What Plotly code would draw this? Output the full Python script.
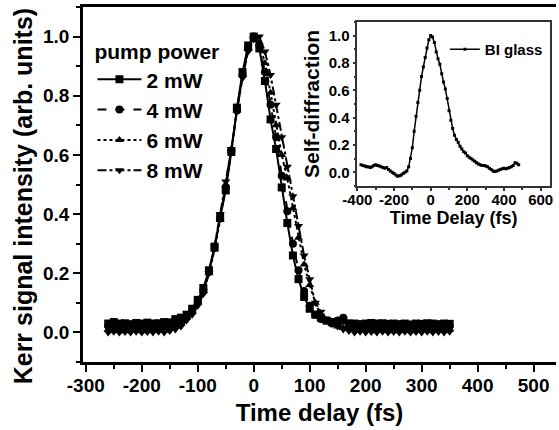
import plotly.graph_objects as go

# ---------------- data ----------------
time_fs = [-260, -250, -240, -230, -220, -210, -200, -190, -180, -170, -160, -150,
           -140, -130, -120, -110, -100, -90, -80, -70, -60, -50, -40, -30, -20, -10,
           0, 10, 20, 30, 40, 50, 60, 70, 80, 90, 100, 110, 120, 130, 140, 150,
           160, 170, 180, 190, 200, 210, 220, 230, 240, 250, 260, 270, 280, 290,
           300, 310, 320, 330, 340, 350]

p2mW = [0.030, 0.035, 0.030, 0.031, 0.028, 0.032, 0.030, 0.033, 0.030, 0.031, 0.035, 0.034,
        0.045, 0.050, 0.060, 0.080, 0.110, 0.150, 0.210, 0.290, 0.390, 0.480, 0.610, 0.760, 0.880, 0.970,
        1.000, 0.960, 0.850, 0.720, 0.620, 0.490, 0.370, 0.260, 0.180, 0.120, 0.080, 0.060, 0.050, 0.040, 0.035, 0.033,
        0.040, 0.030, 0.030, 0.028, 0.030, 0.032, 0.030, 0.031, 0.029, 0.030, 0.028, 0.030, 0.027, 0.030,
        0.029, 0.031, 0.030, 0.028, 0.030, 0.029]

p4mW = [0.022, 0.025, 0.020, 0.024, 0.021, 0.023, 0.020, 0.024, 0.022, 0.021, 0.025, 0.028,
        0.035, 0.045, 0.055, 0.075, 0.105, 0.145, 0.205, 0.285, 0.385, 0.490, 0.610, 0.750, 0.870, 0.960,
        1.000, 0.970, 0.880, 0.770, 0.660, 0.530, 0.410, 0.300, 0.210, 0.140, 0.090, 0.060, 0.045, 0.040, 0.030, 0.040,
        0.050, 0.030, 0.025, 0.022, 0.020, 0.023, 0.021, 0.020, 0.022, 0.020, 0.019, 0.021, 0.020, 0.022,
        0.020, 0.021, 0.019, 0.020, 0.022, 0.021]

p6mW = [0.010, 0.012, 0.010, 0.011, 0.009, 0.010, 0.012, 0.010, 0.011, 0.010, 0.012, 0.015,
        0.020, 0.030, 0.050, 0.070, 0.100, 0.140, 0.200, 0.280, 0.380, 0.500, 0.620, 0.750, 0.870, 0.960,
        1.000, 0.980, 0.910, 0.810, 0.700, 0.600, 0.520, 0.420, 0.320, 0.230, 0.160, 0.100, 0.060, 0.040, 0.030, 0.020,
        0.015, 0.012, 0.010, 0.011, 0.010, 0.009, 0.010, 0.011, 0.010, 0.009, 0.010, 0.011, 0.010, 0.010,
        0.009, 0.010, 0.011, 0.010, 0.009, 0.010]

p8mW = [0.000, 0.002, 0.000, 0.001, 0.000, 0.002, 0.000, 0.001, 0.000, 0.002, 0.000, 0.005,
        0.010, 0.020, 0.040, 0.060, 0.090, 0.130, 0.200, 0.290, 0.400, 0.510, 0.620, 0.750, 0.860, 0.950,
        0.990, 1.000, 0.950, 0.870, 0.770, 0.660, 0.560, 0.460, 0.360, 0.260, 0.180, 0.100, 0.070, 0.045, 0.030, 0.020,
        0.010, 0.005, 0.000, 0.002, 0.000, 0.001, 0.000, 0.002, 0.000, 0.001, 0.000, 0.002, 0.000, 0.001,
        0.000, 0.002, 0.000, 0.001, 0.000, 0.002]

inset_time_fs = [-380, -370, -360, -350, -340, -330, -320, -310, -300, -290, -280, -270, -260, -250,
                 -240, -230, -220, -210, -200, -190, -180, -170, -160, -150, -140, -130, -120, -110,
                 -100, -90, -80, -70, -60, -50, -40, -30, -20, -10, 0, 10, 20, 30, 40, 50, 60, 70,
                 80, 90, 100, 110, 120, 130, 140, 150, 160, 170, 180, 190, 200, 210, 220, 230, 240,
                 250, 260, 270, 280, 290, 300, 310, 320, 330, 340, 350, 360, 370, 380, 390, 400,
                 410, 420, 430, 440, 450, 460, 470, 480]
bi_glass = [0.055, 0.050, 0.045, 0.040, 0.040, 0.035, 0.040, 0.050, 0.055, 0.050, 0.045, 0.040, 0.035, 0.030,
            0.035, 0.020, 0.010, 0.000, -0.010, -0.020, -0.030, -0.025, -0.020, -0.010, 0.000, 0.010, 0.040, 0.100,
            0.180, 0.300, 0.410, 0.510, 0.600, 0.700, 0.770, 0.840, 0.910, 0.970, 1.000, 0.990, 0.950, 0.880, 0.830, 0.790, 0.720, 0.660,
            0.610, 0.540, 0.450, 0.380, 0.320, 0.270, 0.240, 0.220, 0.190, 0.170, 0.150, 0.140, 0.120, 0.110, 0.100, 0.090, 0.080,
            0.070, 0.060, 0.055, 0.050, 0.050, 0.045, 0.040, 0.030, 0.020, 0.010, 0.005, 0.010, 0.015, 0.020, 0.025, 0.030,
            0.025, 0.030, 0.035, 0.040, 0.050, 0.070, 0.065, 0.055]

series_names = ["2 mW", "4 mW", "6 mW", "8 mW"]
main_xticks = [-300, -200, -100, 0, 100, 200, 300, 400, 500]
main_yticks = [0.0, 0.2, 0.4, 0.6, 0.8, 1.0]
inset_xticks = [-400, -200, 0, 200, 400, 600]
inset_yticks = [0.0, 0.2, 0.4, 0.6, 0.8, 1.0]
y_title = "Kerr signal intensity (arb. units)"

# ---------------- style ----------------
FONT = "Arial, Liberation Sans, sans-serif"
dashes = ["solid", "dash", "dot", "dashdot"]
symbols = ["square", "circle", "triangle-up", "triangle-down"]

fig = go.Figure()
for name, vals, dsh, sym in zip(series_names, [p2mW, p4mW, p6mW, p8mW], dashes, symbols):
    fig.add_trace(go.Scatter(
        x=time_fs, y=vals, name=name, mode="lines+markers",
        line=dict(color="black", width=2, dash=dsh),
        marker=dict(symbol=sym, size=8, color="black"),
        xaxis="x", yaxis="y", legend="legend"))

fig.add_trace(go.Scatter(
    x=inset_time_fs, y=bi_glass, name="BI glass", mode="lines+markers",
    line=dict(color="black", width=1.5), marker=dict(symbol="square", size=3, color="black"),
    xaxis="x2", yaxis="y2", legend="legend2"))

XR = [-305, 540]
YR = [-0.1, 1.1]
IXR = [-400, 650]
IYR = [-0.1, 1.1]

tickfont_main = dict(family=FONT, size=19, color="black", weight="bold")
tickfont_inset = dict(family=FONT, size=15, color="black", weight="bold")

fig.update_layout(
    width=559, height=430,
    margin=dict(l=83, r=0, t=7, b=68),
    paper_bgcolor="white", plot_bgcolor="white",
    showlegend=True,
    xaxis=dict(range=XR, autorange=False, domain=[0, 1], anchor="y",
               tickvals=main_xticks, ticktext=[str(v) for v in main_xticks],
               ticks="outside", ticklen=7, tickwidth=2, tickcolor="black", ticklabelstandoff=-3,
               minor=dict(dtick=50, tick0=0, ticks="outside", ticklen=4, tickwidth=2, tickcolor="black"),
               showline=True, linewidth=2.5, linecolor="black", mirror=True,
               showgrid=False, zeroline=False, tickfont=tickfont_main,
               title=dict(text="Time delay (fs)", font=dict(family=FONT, size=24, color="black", weight="bold"),
                          standoff=10)),
    yaxis=dict(range=YR, autorange=False, domain=[0, 1], anchor="x",
               tickvals=main_yticks, tickformat=".1f", ticks="outside", ticklen=7, tickwidth=2, tickcolor="black",
               minor=dict(dtick=0.1, tick0=0, ticks="outside", ticklen=4, tickwidth=2, tickcolor="black"),
               showline=True, linewidth=2.5, linecolor="black", mirror=False,
               showgrid=False, zeroline=False, tickfont=tickfont_main),
    xaxis3=dict(range=XR, autorange=False, overlaying="x", side="top", anchor="y",
                tickvals=main_xticks, ticks="inside", ticklen=6, tickwidth=2, tickcolor="black",
                minor=dict(dtick=50, tick0=0, ticks="inside", ticklen=4, tickwidth=2, tickcolor="black"),
                showticklabels=False, showline=False, showgrid=False, zeroline=False),
    yaxis3=dict(range=YR, autorange=False, overlaying="y", side="right", anchor="x",
                tickvals=main_yticks, ticks="inside", ticklen=6, tickwidth=2, tickcolor="black",
                minor=dict(dtick=0.1, tick0=0, ticks="inside", ticklen=4, tickwidth=2, tickcolor="black"),
                showticklabels=False, showline=False, showgrid=False, zeroline=False),
    xaxis2=dict(range=IXR, autorange=False, domain=[0.580, 0.987], anchor="y2",
                tickvals=inset_xticks, ticktext=[str(v) for v in inset_xticks],
                ticks="outside", ticklen=3, tickwidth=1.5, tickcolor="#333", ticklabelstandoff=-4,
                minor=dict(dtick=100, tick0=0, ticks="outside", ticklen=2, tickwidth=1.5, tickcolor="#333"),
                showline=True, linewidth=1.5, linecolor="#333", mirror=True,
                showgrid=False, zeroline=False, tickfont=tickfont_inset,
                title=dict(text="Time Delay (fs)", font=dict(family=FONT, size=18, color="black", weight="bold"),
                           standoff=0)),
    yaxis2=dict(range=IYR, autorange=False, domain=[0.496, 0.958], anchor="x2",
                tickvals=inset_yticks, tickformat=".1f", ticks="outside", ticklen=3, tickwidth=1.5, tickcolor="#333",
                minor=dict(dtick=0.1, tick0=0, ticks="outside", ticklen=2, tickwidth=1.5, tickcolor="#333"),
                showline=True, linewidth=1.5, linecolor="#333", mirror=True,
                showgrid=False, zeroline=False, tickfont=tickfont_inset,
                title=dict(text="Self-diffraction", font=dict(family=FONT, size=21, color="black", weight="bold"),
                           standoff=3)),
    xaxis4=dict(range=IXR, autorange=False, overlaying="x2", side="top", anchor="y2",
                tickvals=inset_xticks, ticks="inside", ticklen=3, tickwidth=1.5, tickcolor="#333",
                minor=dict(dtick=100, tick0=0, ticks="inside", ticklen=2, tickwidth=1.5, tickcolor="#333"),
                showticklabels=False, showline=False, showgrid=False, zeroline=False),
    yaxis4=dict(range=IYR, autorange=False, overlaying="y2", side="right", anchor="x2",
                tickvals=inset_yticks, ticks="inside", ticklen=3, tickwidth=1.5, tickcolor="#333",
                showticklabels=False, showline=False, showgrid=False, zeroline=False),
    legend=dict(x=0.02, y=0.93, xanchor="left", yanchor="top",
                bgcolor="rgba(0,0,0,0)", borderwidth=0,
                title=dict(text="pump power", font=dict(family=FONT, size=21, color="black", weight="bold")),
                font=dict(family=FONT, size=21, color="black", weight="bold"),
                itemwidth=44, tracegroupgap=0),
    legend2=dict(x=0.765, y=0.88, xanchor="left", yanchor="middle",
                 bgcolor="rgba(0,0,0,0)", borderwidth=0,
                 font=dict(family=FONT, size=15, color="black", weight="bold"), itemwidth=30),
    annotations=[dict(text=y_title, textangle=-90, xref="paper", yref="paper",
                      x=-0.128, y=0.468, xanchor="center", yanchor="middle", showarrow=False,
                      font=dict(family=FONT, size=25, color="black", weight="bold"))],
)

fig.write_html("out.html", config={"displayModeBar": False},
               post_script="document.body.style.margin='0';document.body.style.overflow='hidden';")
